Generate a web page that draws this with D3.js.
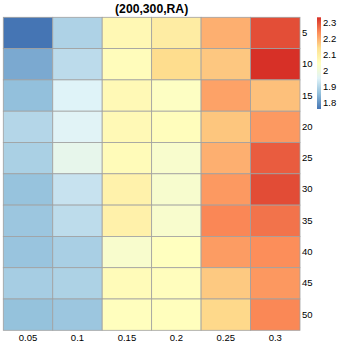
<!DOCTYPE html>
<html>
<head>
<meta charset="utf-8">
<script src="https://cdn.jsdelivr.net/npm/d3@7"></script>
<style>
  body { margin: 0; background: #fff; }
  text { font-family: "Liberation Sans", Arial, sans-serif; }
</style>
</head>
<body>
<script>
const width = 345
const height = 345

const title = '(200,300,RA)'
const cols = ['0.05', '0.1', '0.15', '0.2', '0.25', '0.3']
const rows = ['5', '10', '15', '20', '25', '30', '35', '40', '45', '50']

// one array per row, values per column
const r5  = [1.756, 1.888, 2.067, 2.103, 2.198, 2.303]
const r10 = [1.824, 1.905, 2.054, 2.145, 2.170, 2.334]
const r15 = [1.855, 1.948, 2.063, 2.039, 2.213, 2.178]
const r20 = [1.895, 1.952, 2.063, 2.051, 2.172, 2.224]
const r25 = [1.883, 1.970, 2.057, 2.022, 2.198, 2.288]
const r30 = [1.860, 1.918, 2.086, 2.020, 2.224, 2.305]
const r35 = [1.866, 1.906, 2.088, 2.022, 2.244, 2.265]
const r40 = [1.862, 1.882, 2.022, 2.045, 2.220, 2.236]
const r45 = [1.878, 1.887, 2.058, 2.050, 2.168, 2.225]
const r50 = [1.857, 1.866, 2.047, 2.049, 2.150, 2.243]
const values = [r5, r10, r15, r20, r25, r30, r35, r40, r45, r50]

const legendTicks = [1.8, 1.9, 2, 2.1, 2.2, 2.3]
const palette = ['#4575B4', '#91BFDB', '#E0F3F8', '#FFFFBF', '#FEE090', '#FC8D59', '#D73027']

let cells = []
rows.forEach((r, i) => cols.forEach((c, j) => cells.push({row: r, col: c, v: values[i][j]})))

let vmin = d3.min(cells, d => d.v)
let vmax = d3.max(cells, d => d.v)

let color = d3.scaleLinear()
    .domain(palette.map((p, i) => vmin + (vmax - vmin) * i / (palette.length - 1)))
    .range(palette)

let x = d3.scaleBand().domain(cols).range([3.3, 300])
let y = d3.scaleBand().domain(rows).range([17.3, 330.3])

var svg = d3.select('body').append('svg')
    .attr('width', width)
    .attr('height', height)

svg.append('text')
    .attr('x', (x.range()[0] + x.range()[1]) / 2)
    .attr('y', 13)
    .attr('text-anchor', 'middle')
    .style('font-size', '12.2px')
    .style('font-weight', 'bold')
    .text(title)

svg.selectAll('rect.cell')
    .data(cells)
    .enter().append('rect')
    .attr('class', 'cell')
    .attr('x', d => x(d.col))
    .attr('y', d => y(d.row))
    .attr('width', x.bandwidth())
    .attr('height', y.bandwidth())
    .style('fill', d => color(d.v))
    .style('stroke', '#a0a0a0')
    .style('stroke-width', 0.8)

// axes
let xAxis = svg.append('g')
    .attr('transform', 'translate(0,' + (y.range()[1] + 0.5) + ')')
    .call(d3.axisBottom(x).tickSize(0).tickPadding(3))
xAxis.select('.domain').remove()
xAxis.selectAll('text').style('font-size', '9.5px').style('font-family', '"Liberation Sans", Arial, sans-serif').attr('fill', '#000')

let yAxis = svg.append('g')
    .attr('transform', 'translate(' + (x.range()[1] + 1) + ',0)')
    .call(d3.axisRight(y).tickSize(0).tickPadding(1))
yAxis.select('.domain').remove()
yAxis.selectAll('text').style('font-size', '9.5px').style('font-family', '"Liberation Sans", Arial, sans-serif').attr('fill', '#000')

// legend
let legTop = 17.3, legBot = 109
let ly = d3.scaleLinear().domain([vmin, vmax]).range([legBot, legTop])

let grad = svg.append('defs').append('linearGradient')
    .attr('id', 'leg')
    .attr('x1', 0).attr('y1', 1).attr('x2', 0).attr('y2', 0)
grad.selectAll('stop')
    .data(palette)
    .enter().append('stop')
    .attr('offset', (d, i) => i / (palette.length - 1))
    .attr('stop-color', d => d)

svg.append('rect')
    .attr('x', 317)
    .attr('y', legTop)
    .attr('width', 4)
    .attr('height', legBot - legTop)
    .style('fill', 'url(#leg)')

let lAxis = svg.append('g')
    .attr('transform', 'translate(321,0)')
    .call(d3.axisRight(ly).tickValues(legendTicks).tickFormat(d3.format('')).tickSize(0).tickPadding(2))
lAxis.select('.domain').remove()
lAxis.selectAll('text').style('font-size', '9.5px').style('font-family', '"Liberation Sans", Arial, sans-serif').attr('fill', '#000')
</script>
</body>
</html>
